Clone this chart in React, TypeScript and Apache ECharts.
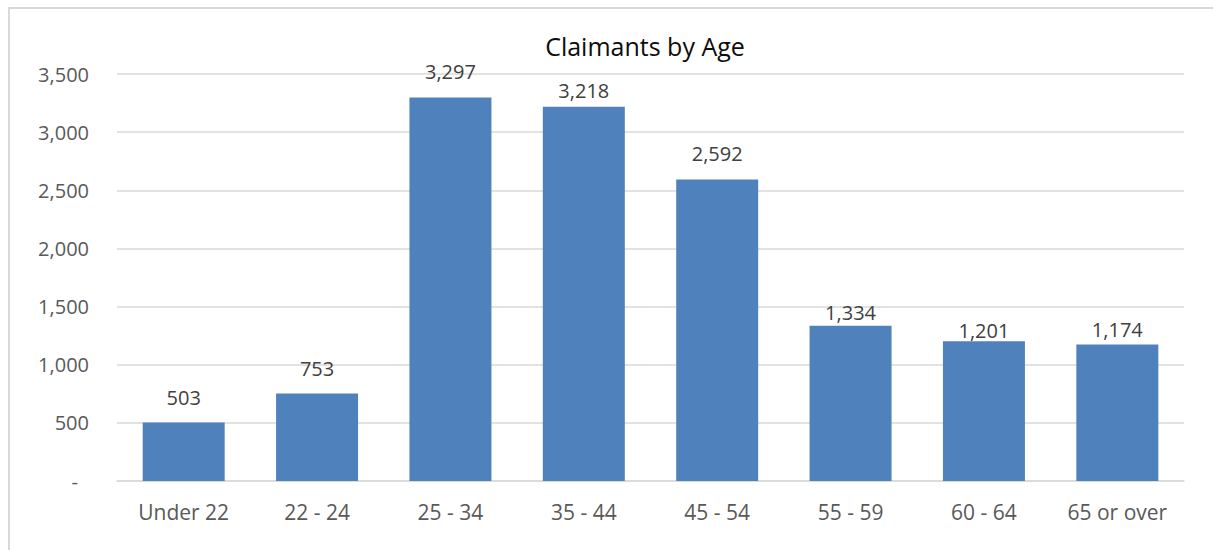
import React, { useEffect, useRef } from "react";
import * as echarts from "echarts";

const categories = ["Under 22", "22 - 24", "25 - 34", "35 - 44", "45 - 54", "55 - 59", "60 - 64", "65 or over"];
const claimants = [503, 753, 3297, 3218, 2592, 1334, 1201, 1174];
const titleText = "Claimants by Age";

// label gap above each bar (style only)
const labelGaps = [15, 15, 16, 6, 16, 3, 1, 5];

const FONT = "'Open Sans', 'Noto Sans', sans-serif";

export default function App() {
  const ref = useRef<HTMLDivElement>(null);
  useEffect(() => {
    if (!ref.current) return;
    const chart = echarts.init(ref.current, undefined, { renderer: "svg" });
    chart.setOption({
      animation: false,
      backgroundColor: "#ffffff",
      graphic: [
        {
          type: "text",
          x: 635,
          y: 37,
          style: {
            text: titleText,
            font: `25px ${FONT}`,
            fill: "#0d0d0d",
            textAlign: "center",
            textVerticalAlign: "middle",
          },
        },
      ],
      grid: { left: 107, right: 36, top: 65, bottom: 76 },
      xAxis: {
        type: "category",
        data: categories,
        axisLine: { show: true, lineStyle: { color: "#d9d9d9", width: 1.5 } },
        axisTick: { show: false },
        axisLabel: { color: "#595959", fontSize: 21, fontFamily: FONT, margin: 20 },
      },
      yAxis: {
        type: "value",
        min: 0,
        max: 3500,
        interval: 500,
        axisLine: { show: false },
        axisTick: { show: false },
        splitLine: { lineStyle: { color: "#d9d9d9", width: 1.5 } },
        axisLabel: {
          color: "#595959",
          fontSize: 20,
          fontFamily: FONT,
          margin: 28,
          formatter: (v: number) => (v === 0 ? "{d|-}" : v.toLocaleString("en-US")),
          rich: {
            d: { color: "#595959", fontSize: 20, fontFamily: FONT, padding: [0, 11, 0, 0] },
          },
        },
      },
      series: [
        {
          type: "bar",
          data: claimants.map((v, i) => ({ value: v, label: { distance: labelGaps[i] } })),
          barWidth: 82,
          itemStyle: { color: "#4F81BD" },
          label: {
            show: true,
            position: "top",
            color: "#404040",
            fontSize: 20,
            fontFamily: FONT,
            formatter: (p: any) => Number(p.value).toLocaleString("en-US"),
          },
        },
      ],
    });
    return () => chart.dispose();
  }, []);
  return (
    <div
      style={{
        position: "fixed",
        left: 8,
        top: 7,
        width: 1210,
        height: 548,
        borderLeft: "2px solid #d9d9d9",
        borderTop: "2px solid #d9d9d9",
        background: "#fff",
      }}
    >
      <div ref={ref} style={{ width: 1210, height: 548 }} />
    </div>
  );
}
